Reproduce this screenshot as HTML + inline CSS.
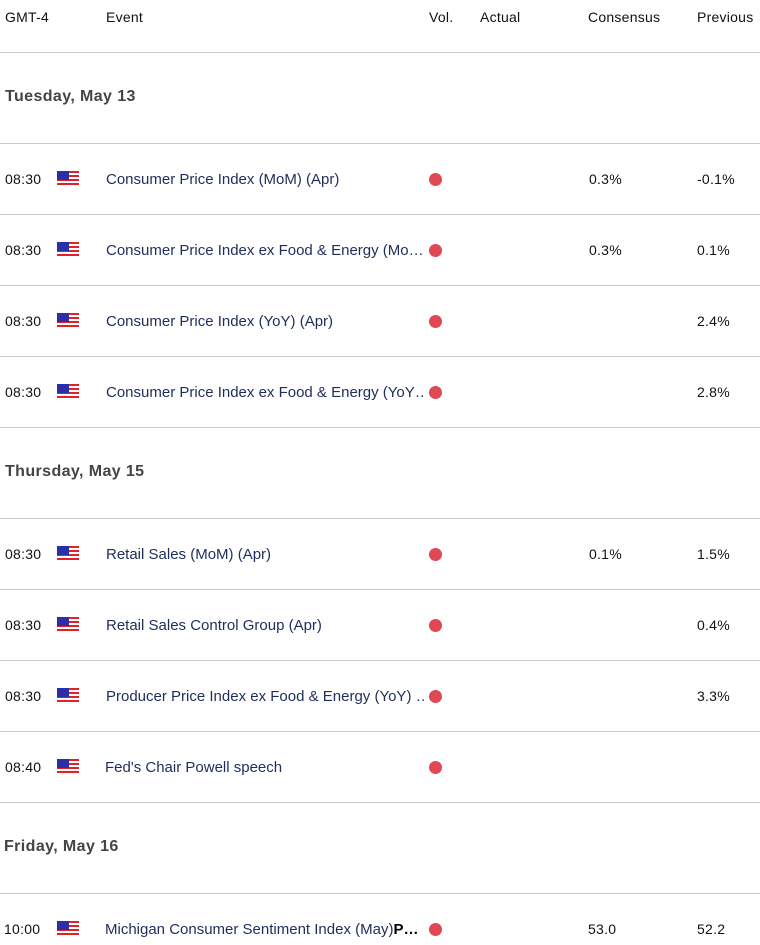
<!DOCTYPE html>
<html><head><style>
body{margin:0;width:760px;height:945px;background:#fff;font-family:"Liberation Sans",sans-serif;position:relative;overflow:hidden}
.t{position:absolute;font-size:14px;line-height:18px;white-space:nowrap;color:#111;letter-spacing:0.25px}
.h{color:#111}
.d{font-size:16px;font-weight:bold;color:#444;letter-spacing:0.4px}
.e{color:#1f2d5c;font-size:15px;letter-spacing:0;top:1px;max-width:318px;overflow:hidden}
.ln{position:absolute;left:0;width:760px;height:1px;background:#c8c8c8}
.dot{position:absolute;left:429px;width:13px;height:13px;border-radius:50%;background:#e04855}
.flag{position:absolute;left:57px;width:22px;height:16px;background:repeating-linear-gradient(#e0202a 0 2px,#fff 2px 4px)}
.flag::before{content:"";position:absolute;left:0;top:0;width:12px;height:9px;background:#2a2fa8}
</style></head><body>
<div class="t h" style="left:5px;top:8px">GMT-4</div>
<div class="t h" style="left:106px;top:8px">Event</div>
<div class="t h" style="left:429px;top:8px">Vol.</div>
<div class="t h" style="left:480px;top:8px">Actual</div>
<div class="t h" style="left:588px;top:8px">Consensus</div>
<div class="t h" style="left:697px;top:8px">Previous</div>
<div class="ln" style="top:52px"></div>
<div class="t d" style="left:5px;top:88px">Tuesday, May 13</div>
<div class="ln" style="top:143px"></div>
<div class="t" style="left:5px;top:170px">08:30</div><div class="flag" style="top:171px"></div><div class="t e" style="left:106px;top:171px">Consumer Price Index (MoM) (Apr)</div><div class="dot" style="top:173px"></div><div class="t" style="left:589px;top:170px">0.3%</div><div class="t" style="left:697px;top:170px">-0.1%</div>
<div class="ln" style="top:214px"></div>
<div class="t" style="left:5px;top:241px">08:30</div><div class="flag" style="top:242px"></div><div class="t e" style="left:106px;top:242px">Consumer Price Index ex Food &amp; Energy (Mo…</div><div class="dot" style="top:244px"></div><div class="t" style="left:589px;top:241px">0.3%</div><div class="t" style="left:697px;top:241px">0.1%</div>
<div class="ln" style="top:285px"></div>
<div class="t" style="left:5px;top:312px">08:30</div><div class="flag" style="top:313px"></div><div class="t e" style="left:106px;top:313px">Consumer Price Index (YoY) (Apr)</div><div class="dot" style="top:315px"></div><div class="t" style="left:697px;top:312px">2.4%</div>
<div class="ln" style="top:356px"></div>
<div class="t" style="left:5px;top:383px">08:30</div><div class="flag" style="top:384px"></div><div class="t e" style="left:106px;top:384px">Consumer Price Index ex Food &amp; Energy (YoY…</div><div class="dot" style="top:386px"></div><div class="t" style="left:697px;top:383px">2.8%</div>
<div class="ln" style="top:427px"></div>
<div class="t d" style="left:5px;top:463px">Thursday, May 15</div>
<div class="ln" style="top:518px"></div>
<div class="t" style="left:5px;top:545px">08:30</div><div class="flag" style="top:546px"></div><div class="t e" style="left:106px;top:546px">Retail Sales (MoM) (Apr)</div><div class="dot" style="top:548px"></div><div class="t" style="left:589px;top:545px">0.1%</div><div class="t" style="left:697px;top:545px">1.5%</div>
<div class="ln" style="top:589px"></div>
<div class="t" style="left:5px;top:616px">08:30</div><div class="flag" style="top:617px"></div><div class="t e" style="left:106px;top:617px">Retail Sales Control Group (Apr)</div><div class="dot" style="top:619px"></div><div class="t" style="left:697px;top:616px">0.4%</div>
<div class="ln" style="top:660px"></div>
<div class="t" style="left:5px;top:687px">08:30</div><div class="flag" style="top:688px"></div><div class="t e" style="left:106px;top:688px">Producer Price Index ex Food &amp; Energy (YoY) …</div><div class="dot" style="top:690px"></div><div class="t" style="left:697px;top:687px">3.3%</div>
<div class="ln" style="top:731px"></div>
<div class="t" style="left:5px;top:758px">08:40</div><div class="flag" style="top:759px"></div><div class="t e" style="left:105px;top:759px">Fed's Chair Powell speech</div><div class="dot" style="top:761px"></div>
<div class="ln" style="top:802px"></div>
<div class="t d" style="left:4px;top:838px">Friday, May 16</div>
<div class="ln" style="top:893px"></div>
<div class="t" style="left:4px;top:920px">10:00</div><div class="flag" style="top:921px"></div><div class="t e" style="left:105px;top:921px">Michigan Consumer Sentiment Index (May)<b style="color:#000">P…</b></div><div class="dot" style="top:923px"></div><div class="t" style="left:588px;top:920px">53.0</div><div class="t" style="left:697px;top:920px">52.2</div>
</body></html>
